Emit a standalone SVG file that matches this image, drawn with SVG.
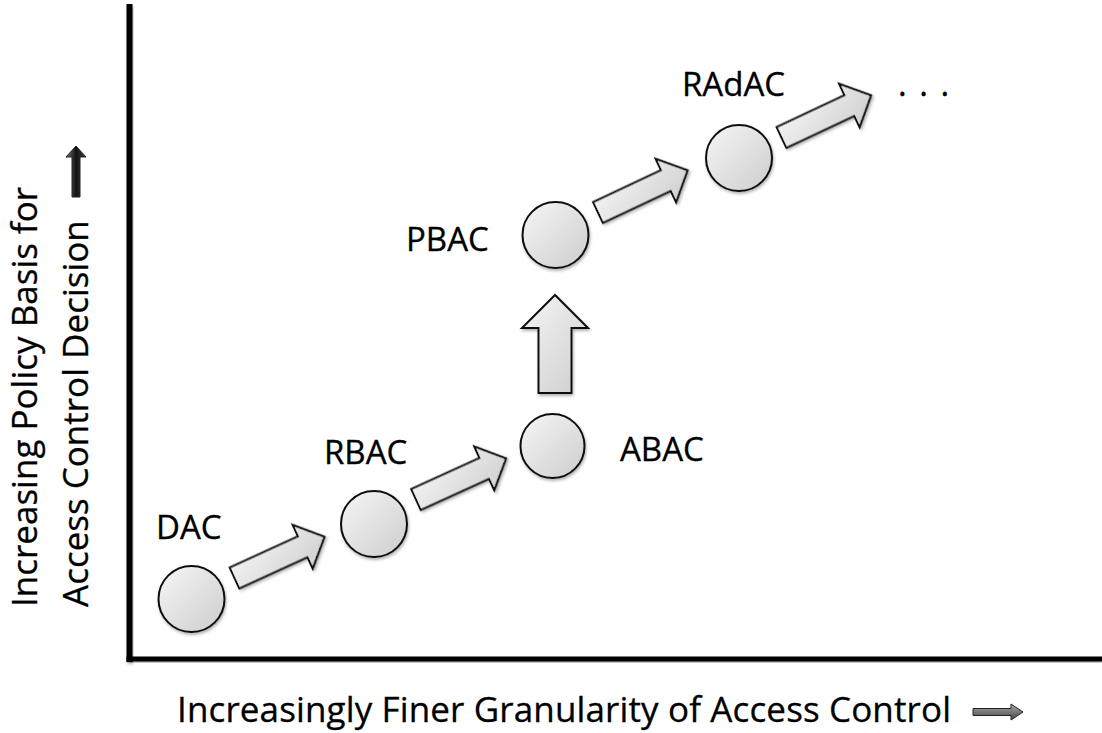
<svg xmlns="http://www.w3.org/2000/svg" width="1102" height="733" viewBox="0 0 1102 733">
  <style>
    .lbl { font-family: "Open Sans", "Liberation Sans", sans-serif; font-size: 33px; fill: #000; stroke: #000; stroke-width: 0.35px; }
    .axis-lbl { font-family: "Open Sans", "Liberation Sans", sans-serif; font-size: 35px; fill: #000; stroke: #000; stroke-width: 0.3px; }
    .shape { fill: url(#lightFill); stroke: #111; stroke-width: 2; filter: url(#shadow); }
    .axis { fill: #000; filter: url(#shadow); }
  </style>
  <defs>
    <linearGradient id="lightFill" x1="0" y1="0" x2="1" y2="1">
      <stop offset="0" stop-color="#f6f6f6"/>
      <stop offset="1" stop-color="#cdcdcd"/>
    </linearGradient>
    <linearGradient id="darkV" x1="0" y1="0" x2="1" y2="0">
      <stop offset="0" stop-color="#777"/>
      <stop offset="0.5" stop-color="#111"/>
      <stop offset="1" stop-color="#444"/>
    </linearGradient>
    <linearGradient id="darkH" x1="0" y1="0" x2="0" y2="1">
      <stop offset="0" stop-color="#aaa"/>
      <stop offset="1" stop-color="#444"/>
    </linearGradient>
    <filter id="shadow" x="-20%" y="-20%" width="140%" height="140%">
      <feDropShadow dx="1" dy="2" stdDeviation="1.5" flood-color="#000" flood-opacity="0.3"/>
    </filter>
    <!-- block arrow pointing along +x, tail centre at origin -->
    <polygon id="blockArrow" points="0,-11.5 75,-11.5 75,-24 99,0 75,24 75,11.5 0,11.5"/>
  </defs>

  <!-- axes -->
  <g id="axes">
    <rect class="axis" x="126.5" y="4" width="6" height="658"/>
    <rect class="axis" x="126.5" y="656.5" width="975.5" height="5"/>
  </g>

  <!-- axis titles -->
  <g id="y-axis-title">
    <text class="axis-lbl" transform="translate(37,607) rotate(-90)">Increasing Policy Basis for</text>
    <text class="axis-lbl" transform="translate(88,607) rotate(-90)">Access Control Decision</text>
    <polygon points="72,197 72,157 66,157 76,146 86,157 80,157 80,197" fill="url(#darkV)" stroke="#222" stroke-width="1"/>
  </g>
  <g id="x-axis-title">
    <text class="axis-lbl" x="177" y="722" textLength="774">Increasingly Finer Granularity of Access Control</text>
    <polygon points="973,708.5 1011,708.5 1011,704 1023,712 1011,720 1011,715.5 973,715.5" fill="url(#darkH)" stroke="#222" stroke-width="1"/>
  </g>

  <!-- connectors -->
  <g id="connectors">
    <use href="#blockArrow" class="shape" transform="translate(234.5,578) rotate(-24.6)"/>
    <use href="#blockArrow" class="shape" transform="translate(416,499.5) rotate(-24.5)"/>
    <use href="#blockArrow" class="shape" transform="translate(598,212.5) rotate(-25.2)"/>
    <use href="#blockArrow" class="shape" transform="translate(781.5,137.5) rotate(-25.2)"/>
    <polygon class="shape" points="538.5,393 538.5,328 522,328 555,295 588,328 571.5,328 571.5,393"/>
  </g>

  <!-- nodes -->
  <g id="node-dac">
    <circle class="shape" cx="191.5" cy="599" r="33"/>
    <text class="lbl" x="156" y="539">DAC</text>
  </g>
  <g id="node-rbac">
    <circle class="shape" cx="374" cy="524" r="33"/>
    <text class="lbl" x="324" y="464">RBAC</text>
  </g>
  <g id="node-abac">
    <circle class="shape" cx="552.5" cy="446" r="32"/>
    <text class="lbl" x="620" y="461">ABAC</text>
  </g>
  <g id="node-pbac">
    <circle class="shape" cx="555.5" cy="235" r="33"/>
    <text class="lbl" x="406" y="251">PBAC</text>
  </g>
  <g id="node-radac">
    <circle class="shape" cx="739" cy="158" r="33"/>
    <text class="lbl" x="682" y="96">RAdAC</text>
  </g>
  <g id="node-more">
    <text class="lbl" x="898" y="96" letter-spacing="2">. . .</text>
  </g>
</svg>
